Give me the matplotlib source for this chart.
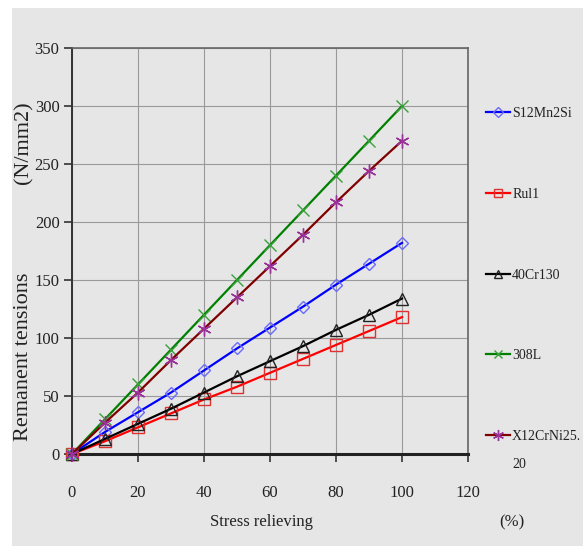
import matplotlib
matplotlib.use("Agg")
import matplotlib.pyplot as plt
from matplotlib.patches import Rectangle

# stress relieving (%)
relief = [0, 10, 20, 30, 40, 50, 60, 70, 80, 90, 100]

# remanent tensions (N/mm2)
s12mn2si = [0, 19, 36, 53, 72, 91, 109, 127, 146, 164, 182]
rul1 = [0, 11, 23, 35, 47, 58, 70, 82, 94, 106, 118]
cr40_130 = [0, 13, 26, 39, 53, 67, 80, 93, 107, 120, 134]
l308 = [0, 30, 60, 90, 120, 150, 180, 210, 240, 270, 300]
x12crni = [0, 27, 53, 81, 108, 135, 162, 189, 217, 244, 270]

series_names = ["S12Mn2Si", "Rul1", "40Cr130", "308L", "X12CrNi25."]
x_ticks = [0, 20, 40, 60, 80, 100, 120]
y_ticks = [0, 50, 100, 150, 200, 250, 300, 350]

plt.rcParams["font.family"] = ["Liberation Serif", "DejaVu Serif"]

BG = "#e6e6e6"
TXT = "#222222"
fig = plt.figure(figsize=(5.83, 5.46), dpi=100)
fig.patch.set_facecolor("white")
# grey panel with a thin white margin on top / left
fig.add_artist(Rectangle((12 / 583, 0), 1, 1 - 8 / 546, transform=fig.transFigure,
                         facecolor=BG, edgecolor="none", zorder=-10))

ax = fig.add_axes([72 / 583, 92 / 546, 396 / 583, 406 / 546])
ax.set_facecolor(BG)

styles = [
    dict(color="#0000ff", marker="D", ms=6, mfc="none", mec="#6a6aff", mew=1.0),
    dict(color="#ff0000", marker="s", ms=8, mfc="none", mec="#e03030", mew=1.0),
    dict(color="#000000", marker="^", ms=8, mfc="none", mec="#222222", mew=1.0),
    dict(color="#008000", marker="x", ms=8, mfc="none", mec="#3aa03a", mew=1.0),
    dict(color="#800000", marker=(6, 2, 0), ms=10, mfc="none", mec="#993399", mew=1.0),
]
data = [s12mn2si, rul1, cr40_130, l308, x12crni]

handles = []
for vals, name, st in zip(data, series_names, styles):
    h, = ax.plot(relief, vals, lw=1.6, label=name, clip_on=False, zorder=3, **st)
    handles.append(h)

ax.set_xlim(0, 120)
ax.set_ylim(0, 350)
ax.set_xticks(x_ticks)
ax.set_yticks(y_ticks)
ax.grid(True, color="#9a9a9a", lw=0.8)
ax.set_axisbelow(True)
ax.tick_params(axis="both", direction="out", length=6, width=1.2, labelsize=12,
               color="#333333", labelcolor=TXT)
ax.tick_params(axis="x", pad=16)
ax.tick_params(axis="y", pad=3)

for side in ["top", "right"]:
    ax.spines[side].set_color("#666666")
    ax.spines[side].set_linewidth(1.2)
ax.spines["left"].set_color("#333333")
ax.spines["left"].set_linewidth(1.4)
ax.spines["bottom"].set_color("#222222")
ax.spines["bottom"].set_linewidth(2.2)

# axis titles
fig.text(262 / 583, 1 - 522 / 546, "Stress relieving", ha="center", va="center",
         fontsize=12, color=TXT)
fig.text(512 / 583, 1 - 522 / 546, "(%)", ha="center", va="center",
         fontsize=12, color=TXT)
fig.text(24 / 583, 1 - 357 / 546, "Remanent tensions", ha="center", va="center",
         rotation=90, fontsize=16, color=TXT)
fig.text(24 / 583, 1 - 143 / 546, "(N/mm2)", ha="center", va="center",
         rotation=90, fontsize=16, color=TXT)

leg = fig.legend(handles=handles, loc="upper left", bbox_to_anchor=(486 / 583, 1 - 107 / 546),
                 frameon=False, fontsize=10, labelspacing=4.88, handlelength=1.73,
                 handletextpad=0.15, borderaxespad=0, borderpad=0, markerscale=0.8)
for t in leg.get_texts():
    t.set_color(TXT)
fig.text(512 / 583, 1 - 465 / 546, "20", ha="left", va="center",
         fontsize=10, color=TXT)

fig.savefig("out.png", dpi=100, facecolor=fig.get_facecolor())
